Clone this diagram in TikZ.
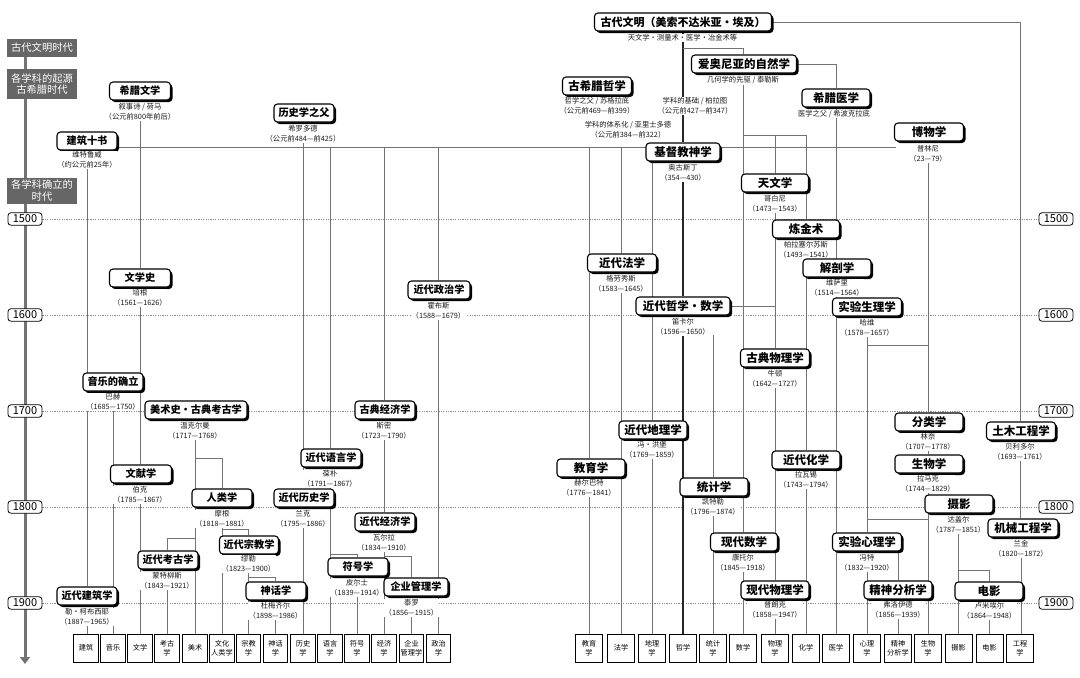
\documentclass[tikz,border=0pt]{standalone}
\usepackage{fontspec}
\setmainfont{Noto Sans CJK SC}
\usetikzlibrary{shadows,backgrounds,arrows.meta}
\newcommand{\vlink}[2]{\draw[conn] (#1) -- (#1 |- #2);}
\begin{document}
\begin{tikzpicture}[x=1pt,y=-1pt,
  box/.style={draw=black,line width=1.1pt,rounded corners=3.5pt,fill=white,
    minimum height=18pt,inner sep=1pt,font=\bfseries\fontsize{10.2}{12}\selectfont,
    drop shadow={shadow xshift=2pt,shadow yshift=-2pt,fill=black,opacity=1}},
  rbox/.style={box,font=\bfseries\fontsize{11.5}{12}\selectfont},
  sub/.style={fill=white,inner sep=0.6pt,align=center,text=black!90,
    font=\fontsize{7.3}{9.8}\selectfont},
  leaf/.style={draw=black,line width=0.8pt,fill=white,minimum width=24.5pt,
    minimum height=28pt,inner sep=0pt,align=center,font=\fontsize{7.2}{9}\selectfont},
  rleaf/.style={leaf,minimum width=27pt},
  era/.style={fill=black!60,text=white,minimum width=70pt,inner sep=1pt,align=center,
    font=\fontsize{10.3}{11.8}\selectfont},
  yr/.style={draw=black,line width=0.8pt,rounded corners=3pt,fill=white,minimum width=34pt,
    minimum height=12.5pt,inner sep=0pt,font=\fontsize{11}{12}\selectfont},
  conn/.style={draw=black!55,line width=0.7pt},
  philo/.style={draw=black!85,line width=2.2pt},
  yrline/.style={draw=black!45,line width=0.6pt,dash pattern=on 1.2pt off 1.2pt},
  axisline/.style={draw=black!55,line width=3pt,-{Triangle[width=10pt,length=7pt]}},
]
\useasboundingbox (0,0) rectangle (1080,678);

% ---------- time axis ----------
\coordinate (axtop) at (25,40);
\coordinate (axbot) at (25,664);
\node[era,minimum height=18pt] (e1) at (42,48) {古代文明时代};
\node[era,minimum height=30pt] (e2) at (42,84) {各学科的起源\\古希腊时代};
\node[era,minimum height=26pt] (e3) at (42,190.5) {各学科确立的\\时代};
\foreach \yv/\yy in {1500/219,1600/315,1700/411,1800/507,1900/603}{
  \node[yr] (yl\yv) at (25,\yy) {\yv};
  \node[yr] (yr\yv) at (1056,\yy) {\yv};
}

% ---------- left boxes ----------
\node[box,minimum width=61pt] (gw) at (140,91) {希腊文学};
\node[sub] (gw-s) at (140,112) {叙事诗 / 荷马\\（公元前800年前后）};
\node[box,minimum width=60pt] (jz) at (87,141) {建筑十书};
\node[sub] (jz-s) at (87,160) {维特鲁威\\（约公元前25年）};
\node[box,minimum width=60pt] (lsf) at (304,113) {历史学之父};
\node[sub] (lsf-s) at (303,134) {希罗多德\\（公元前484—前425）};
\node[box,minimum width=61pt] (wxs) at (140,278) {文学史};
\node[sub] (wxs-s) at (140,298) {培根\\（1561—1626）};
\node[box,minimum width=60pt] (yy) at (113,382) {音乐的确立};
\node[sub] (yy-s) at (113,402) {巴赫\\（1685—1750）};
\node[box,minimum width=102pt] (ms) at (196,410) {美术史・古典考古学};
\node[sub] (ms-s) at (195,431) {温克尔曼\\（1717—1768）};
\node[box,minimum width=62pt] (zz) at (439,290) {近代政治学};
\node[sub] (zz-s) at (438.5,310.5) {霍布斯\\（1588—1679）};
\node[box,minimum width=60pt] (gj) at (385,410) {古典经济学};
\node[sub] (gj-s) at (384,431) {斯密\\（1723—1790）};
\node[box,minimum width=60pt] (yyx) at (331,458) {近代语言学};
\node[sub] (yyx-s) at (330,479) {葆朴\\（1791—1867）};
\node[box,minimum width=60pt] (lsx) at (304,498) {近代历史学};
\node[sub] (lsx-s) at (303,519) {兰克\\（1795—1886）};
\node[box,minimum width=60pt] (jj) at (385,522) {近代经济学};
\node[sub] (jj-s) at (384,543) {瓦尔拉\\（1834—1910）};
\node[box,minimum width=60pt] (fh) at (358,567) {符号学};
\node[sub] (fh-s) at (357,588) {皮尔士\\（1839—1914）};
\node[box,minimum width=64pt] (qy) at (416,587) {企业管理学};
\node[sub] (qy-s) at (411.5,608) {泰罗\\（1856—1915）};
\node[box,minimum width=60pt] (sh) at (276,591) {神话学};
\node[sub] (sh-s) at (275.5,611) {杜梅齐尔\\（1898—1986）};
\node[box,minimum width=59pt] (zj) at (249,545) {近代宗教学};
\node[sub] (zj-s) at (248.5,564) {缪勒\\（1823—1900）};
\node[box,minimum width=60pt] (rl) at (222,498) {人类学};
\node[sub] (rl-s) at (222,519) {摩根\\（1818—1881）};
\node[box,minimum width=60pt] (kg) at (168,560) {近代考古学};
\node[sub] (kg-s) at (167,581) {蒙特柳斯\\（1843—1921）};
\node[box,minimum width=61pt] (wx) at (141,474) {文献学};
\node[sub] (wx-s) at (140,495) {伯克\\（1785—1867）};
\node[box,minimum width=60pt] (jzx) at (87,596) {近代建筑学};
\node[sub] (jzx-s) at (87,617) {勒・柯布西耶\\（1887—1965）};

% ---------- right boxes ----------
\node[box,minimum width=177pt,font=\bfseries\fontsize{11}{12}\selectfont] (gdwm) at (683,22) {古代文明（美索不达米亚・埃及）};
\node[sub] (gdwm-s) at (682.5,38) {天文学・测量术・医学・冶金术等};
\node[rbox,minimum width=105pt] (ao) at (744,64) {爱奥尼亚的自然学};
\node[sub] (ao-s) at (743,80) {几何学的先驱 / 泰勒斯};
\node[rbox,minimum width=69pt] (gxzx) at (597,86) {古希腊哲学};
\node[sub] (gxzx-s) at (597,106) {哲学之父 / 苏格拉底\\（公元前469—前399）};
\node[sub] (plato-s) at (695,106) {学科的基础 / 柏拉图\\（公元前427—前347）};
\node[sub,inner xsep=6pt] (arist-s) at (628,130) {学科的体系化 / 亚里士多德\\（公元前384—前322）};
\node[rbox,minimum width=68pt] (xy) at (836,98) {希腊医学};
\node[sub] (xy-s) at (834,114) {医学之父 / 希波克拉底};
\node[rbox,minimum width=69pt] (bw) at (929,132) {博物学};
\node[sub] (bw-s) at (928,153.5) {普林尼\\（23—79）};
\node[rbox,minimum width=74pt] (jd) at (683,152) {基督教神学};
\node[sub] (jd-s) at (683,173) {奥古斯丁\\（354—430）};
\node[rbox,minimum width=67pt] (tw) at (775,183) {天文学};
\node[sub] (tw-s) at (775,204) {哥白尼\\（1473—1543）};
\node[rbox,minimum width=67pt] (lj) at (806,229) {炼金术};
\node[sub] (lj-s) at (806,249.5) {帕拉塞尔苏斯\\（1493—1541）};
\node[rbox,minimum width=68pt] (jp) at (837,268) {解剖学};
\node[sub] (jp-s) at (837,288) {维萨里\\（1514—1564）};
\node[rbox,minimum width=69pt] (sysl) at (867,307) {实验生理学};
\node[sub] (sysl-s) at (867,328) {哈维\\（1578—1657）};
\node[rbox,minimum width=69pt] (fx) at (622,263) {近代法学};
\node[sub] (fx-s) at (621,284) {格劳秀斯\\（1583—1645）};
\node[rbox,minimum width=94pt] (zx) at (683,306) {近代哲学・数学};
\node[sub] (zx-s) at (683,327) {笛卡尔\\（1596—1650）};
\node[rbox,minimum width=69pt] (gdwl) at (775,358) {古典物理学};
\node[sub] (gdwl-s) at (775,379) {牛顿\\（1642—1727）};
\node[rbox,minimum width=68pt] (dl) at (653,430) {近代地理学};
\node[sub] (dl-s) at (652,450) {冯・洪堡\\（1769—1859）};
\node[rbox,minimum width=68pt] (jy) at (591,468) {教育学};
\node[sub] (jy-s) at (589,488) {赫尔巴特\\（1776—1841）};
\node[rbox,minimum width=68pt] (tj) at (714,487) {统计学};
\node[sub] (tj-s) at (713,507) {凯特勒\\（1796—1874）};
\node[rbox,minimum width=67pt] (xs) at (744,542) {现代数学};
\node[sub] (xs-s) at (743,562.5) {康托尔\\（1845—1918）};
\node[rbox,minimum width=68pt] (xw) at (775,590) {现代物理学};
\node[sub] (xw-s) at (775,609.5) {普朗克\\（1858—1947）};
\node[rbox,minimum width=68pt] (hx) at (806,460) {近代化学};
\node[sub] (hx-s) at (806,480) {拉瓦锡\\（1743—1794）};
\node[rbox,minimum width=69pt] (syxl) at (867,542) {实验心理学};
\node[sub] (syxl-s) at (867,562.5) {冯特\\（1832—1920）};
\node[rbox,minimum width=68pt] (jsfx) at (898,590) {精神分析学};
\node[sub] (jsfx-s) at (898,610) {弗洛伊德\\（1856—1939）};
\node[rbox,minimum width=68pt] (dy) at (989,591) {电影};
\node[sub] (dy-s) at (989.5,611) {卢米埃尔\\（1864—1948）};
\node[rbox,minimum width=68pt] (sy) at (959,504) {摄影};
\node[sub] (sy-s) at (958.5,525) {达盖尔\\（1787—1851）};
\node[rbox,minimum width=70pt] (jx) at (1023,528) {机械工程学};
\node[sub] (jx-s) at (1021,549) {兰金\\（1820—1872）};
\node[rbox,minimum width=68pt] (sw) at (929,464) {生物学};
\node[sub] (sw-s) at (928,484) {拉马克\\（1744—1829）};
\node[rbox,minimum width=68pt] (fl) at (929,422) {分类学};
\node[sub] (fl-s) at (928,441.5) {林奈\\（1707—1778）};
\node[rbox,minimum width=69pt] (tm) at (1021,431) {土木工程学};
\node[sub] (tm-s) at (1020,451.5) {贝利多尔\\（1693—1761）};

% ---------- leaves ----------
\foreach \i/\xx/\tt in {1/86/建筑,2/113/音乐,3/140/文学,4/167/考古\\学,5/195/美术,
  6/222/文化\\人类学,7/248.5/宗教\\学,8/275.5/神话\\学,9/303/历史\\学,10/330/语言\\学,
  11/357/符号\\学,12/384/经济\\学,13/411.5/企业\\管理学,14/438.5/政治\\学}{
  \node[leaf] (lf\i) at (\xx,648) {\tt};
}
\foreach \i/\xx/\tt in {1/589/教育\\学,2/621/法学,3/652/地理\\学,4/683/哲学,5/713/统计\\学,
  6/743/数学,7/775/物理\\学,8/806/化学,9/836/医学,10/867/心理\\学,11/898/精神\\分析学,
  12/928/生物\\学,13/958.5/摄影,14/989.5/电影,15/1020/工程\\学}{
  \node[rleaf] (rf\i) at (\xx,648) {\tt};
}

\begin{pgfonlayer}{background}
  \draw[axisline] (axtop) -- (axbot);
  \foreach \yv in {1500,1600,1700,1800,1900}{
    \draw[yrline] (yl\yv.east) -- (yr\yv.west);
  }
  % left
  \draw[conn] (jz.east |- 0,147) -- (896,147);
  \vlink{gw-s.south}{wxs.north}
  \vlink{wxs-s.south}{wx.north}
  \vlink{wx-s.south}{lf3.north}
  \vlink{jz-s.south}{jzx.north}
  \vlink{jzx-s.south}{lf1.north}
  \vlink{yy-s.south}{lf2.north}
  \vlink{lsf-s.south}{lsx.north}
  \vlink{lsx-s.south}{lf9.north}
  \draw[conn] (330,147) -- (330,0 |- yyx.north);
  \vlink{yyx-s.south}{lf10.north}
  \draw[conn] (330,554) -| (357,0 |- fh.north);
  \vlink{fh-s.south}{lf11.north}
  \draw[conn] (384,147) -- (384,0 |- gj.north);
  \vlink{gj-s.south}{jj.north}
  \vlink{jj-s.south}{lf12.north}
  \draw[conn] (384,556) -| (411.5,0 |- qy.north);
  \vlink{qy-s.south}{lf13.north}
  \draw[conn] (438.5,147) -- (438.5,0 |- zz.north);
  \vlink{zz-s.south}{lf14.north}
  \vlink{ms-s.south}{lf5.north}
  \draw[conn] (195,458) -| (222,0 |- rl.north);
  \draw[conn] (195,538) -| (167,0 |- kg.north);
  \vlink{kg-s.south}{lf4.north}
  \vlink{rl-s.south}{lf6.north}
  \draw[conn] (222,529) -| (248.5,0 |- zj.north);
  \vlink{zj-s.south}{lf7.north}
  \draw[conn] (248.5,577) -| (275.5,0 |- sh.north);
  \vlink{sh-s.south}{lf8.north}
  % right
  \draw[conn] (gdwm.east) -| (1020,0 |- tm.north);
  \vlink{tm-s.south}{jx.north}
  \vlink{jx-s.south}{rf15.north}
  \draw[philo] (gdwm.south) -- (jd.north);
  \draw[philo] (jd-s.south) -- (zx.north);
  \draw[philo] (zx-s.south) -- (rf4.north);
  \draw[conn] (683,48) -| (743,0 |- ao.north);
  \draw[conn] (ao.east) -| (836,0 |- xy.north);
  \draw[conn] (836,0 |- xy.south) -- (836,0 |- rf9.north);
  \vlink{ao-s.south}{xs.north}
  \vlink{xs-s.south}{rf6.north}
  \draw[conn] (743,135) -| (806,0 |- lj.north);
  \draw[conn] (775,135) -- (775,0 |- tw.north);
  \vlink{tw-s.south}{gdwl.north}
  \draw[conn] (zx.east) -- (775,0 |- zx.east);
  \vlink{gdwl-s.south}{xw.north}
  \vlink{xw-s.south}{rf7.north}
  \vlink{lj-s.south}{hx.north}
  \vlink{hx-s.south}{rf8.north}
  \draw[conn] (589,147) -- (589,0 |- jy.north);
  \vlink{jy-s.south}{rf1.north}
  \draw[conn] (621,147) -- (621,0 |- fx.north);
  \vlink{fx-s.south}{rf2.north}
  \draw[conn] (652,147) -- (652,0 |- dl.north);
  \vlink{dl-s.south}{rf3.north}
  \draw[conn] (713,335) -- (713,0 |- tj.north);
  \vlink{tj-s.south}{rf5.north}
  \vlink{bw-s.south}{fl.north}
  \vlink{fl-s.south}{sw.north}
  \vlink{sw-s.south}{rf12.north}
  \vlink{sysl-s.south}{syxl.north}
  \draw[conn] (867,345) -- (928,345);
  \draw[conn] (867,519) -- (928,519);
  \vlink{syxl-s.south}{rf10.north}
  \draw[conn] (898,0 |- syxl.south) -- (898,0 |- jsfx.north);
  \vlink{jsfx-s.south}{rf11.north}
  \vlink{sy-s.south}{rf13.north}
  \draw[conn] (958.5,570) -| (989.5,0 |- dy.north);
  \vlink{dy-s.south}{rf14.north}
\end{pgfonlayer}
\end{tikzpicture}
\end{document}
